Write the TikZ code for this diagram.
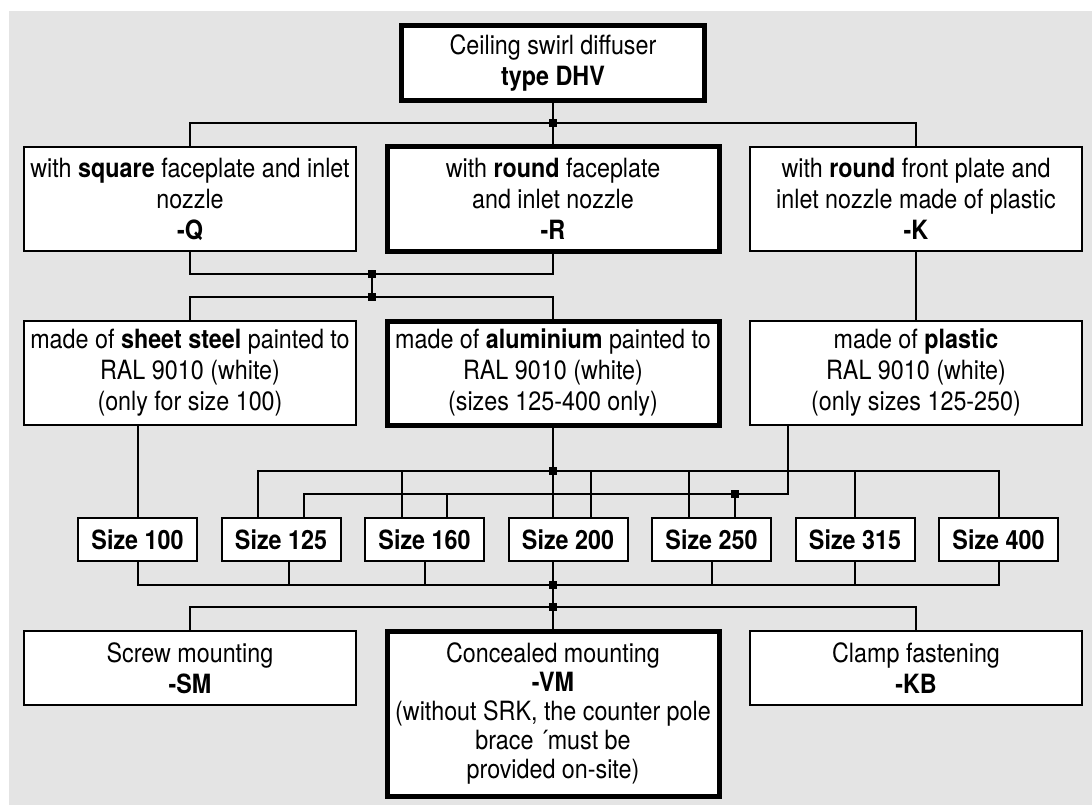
\documentclass[tikz,border=0pt]{standalone}
\usepackage{fontspec}
\setmainfont{TeX Gyre Heros}[FakeStretch=0.88]
\definecolor{bg}{RGB}{228,228,228}
\begin{document}
\begin{tikzpicture}[x=1pt,y=-1pt,
  box/.style={draw=black, line width=2pt, fill=white, inner sep=0pt, outer sep=0pt,
    align=center, font=\fontsize{26.5}{31}\selectfont},
  thickbox/.style={box, line width=5pt},
  sizebox/.style={box, minimum width=119pt, minimum height=43pt, font=\fontsize{26.5}{31}\selectfont\bfseries},
  wide/.style={minimum width=332pt, minimum height=104pt},
  wire/.style={draw=black, line width=2pt},
  jn/.style={fill=black, inner sep=0pt, minimum size=8pt, outer sep=0pt}]
\useasboundingbox (0,0) rectangle (1092,805);
\fill[bg] (9,11) rectangle (1092,805);

% boxes
\node[thickbox, minimum width=303pt, minimum height=75pt] (top) at (553,63)
  {Ceiling swirl diffuser\\\textbf{type DHV}};
\node[box, wide] (Q) at (190,199) {with \textbf{square} faceplate and inlet\\nozzle\\\textbf{-Q}};
\node[thickbox, wide] (R) at (553,199) {with \textbf{round} faceplate\\and inlet nozzle\\\textbf{-R}};
\node[box, wide] (K) at (916,199) {with \textbf{round} front plate and\\inlet nozzle made of plastic\\\textbf{-K}};

\node[box, wide] (sheet) at (190,373) {made of \textbf{sheet steel} painted to\\RAL 9010 (white)\\(only for size 100)};
\node[thickbox, wide] (alu) at (553,373) {made of \textbf{aluminium} painted to\\RAL 9010 (white)\\(sizes 125-400 only)};
\node[box, wide] (plastic) at (916,373) {made of \textbf{plastic}\\RAL 9010 (white)\\(only sizes 125-250)};

\node[sizebox] (s100) at (137.5,539.5) {Size 100};
\node[sizebox] (s125) at (281,539.5) {Size 125};
\node[sizebox] (s160) at (424.5,539.5) {Size 160};
\node[sizebox] (s200) at (568,539.5) {Size 200};
\node[sizebox] (s250) at (711.5,539.5) {Size 250};
\node[sizebox] (s315) at (855,539.5) {Size 315};
\node[sizebox] (s400) at (998.5,539.5) {Size 400};

\node[box, minimum width=332pt, minimum height=74pt] (SM) at (190,668) {Screw mounting\\\textbf{-SM}};
\node[thickbox, minimum width=332pt, minimum height=165pt, font=\fontsize{26.5}{29}\selectfont] (VM) at (553,713.5)
  {Concealed mounting\\\textbf{-VM}\\(without SRK, the counter pole\\brace ´must be\\provided on-site)};
\node[box, minimum width=332pt, minimum height=74pt] (KB) at (916,668) {Clamp fastening\\\textbf{-KB}};

% junctions
\node[jn] (j1) at (553,123) {};
\node[jn] (j2) at (371.5,274) {};
\node[jn] (j3) at (371.5,297) {};
\node[jn] (j4) at (553,471) {};
\node[jn] (j5) at (735,494) {};
\node[jn] (j6) at (553,585) {};
\node[jn] (j7) at (553,607) {};

% free points on the bus lines
\coordinate (uL) at (258,471);
\coordinate (u160) at (402,471);
\coordinate (u200) at (591,471);
\coordinate (u250) at (689,471);
\coordinate (lL) at (304,494);
\coordinate (l160) at (447,494);
\coordinate (lR) at (788,494);
\coordinate (b125) at (289,585);

% level 1
\draw[wire] (top.south) -- (j1.center) -- (R.north);
\draw[wire] (Q.north) -- (Q.north |- j1) -- (K.north |- j1) -- (K.north);
% level 2
\draw[wire] (Q.south) -- (Q.south |- j2) -- (R.south |- j2) -- (R.south);
\draw[wire] (j2.center) -- (j3.center);
\draw[wire] (sheet.north) -- (sheet.north |- j3) -- (alu.north |- j3) -- (alu.north);
\draw[wire] (K.south) -- (plastic.north);
% level 3
\draw[wire] (sheet.south -| s100.north) -- (s100.north);
\draw[wire] (alu.south) -- (j4.center) -- (alu.south |- s200.north);
\draw[wire] (uL |- s125.north) -- (uL) -- (s400.north |- uL) -- (s400.north);
\draw[wire] (u160) -- (u160 |- s160.north);
\draw[wire] (u200) -- (u200 |- s200.north);
\draw[wire] (u250) -- (u250 |- s250.north);
\draw[wire] (s315.north |- uL) -- (s315.north);
\draw[wire] (lR |- plastic.south) -- (lR) -- (lL) -- (lL |- s125.north);
\draw[wire] (l160) -- (l160 |- s160.north);
\draw[wire] (j5.center) -- (j5 |- s250.north);
% level 4
\draw[wire] (s100.south) -- (s100.south |- j6) -- (s400.south |- j6) -- (s400.south);
\draw[wire] (b125) -- (b125 |- s125.south);
\draw[wire] (s160.south) -- (s160.south |- j6);
\draw[wire] (s250.south) -- (s250.south |- j6);
\draw[wire] (s315.south) -- (s315.south |- j6);
\draw[wire] (j6 |- s200.south) -- (j6.center) -- (j7.center) -- (VM.north);
\draw[wire] (SM.north) -- (SM.north |- j7) -- (KB.north |- j7) -- (KB.north);
\end{tikzpicture}
\end{document}
